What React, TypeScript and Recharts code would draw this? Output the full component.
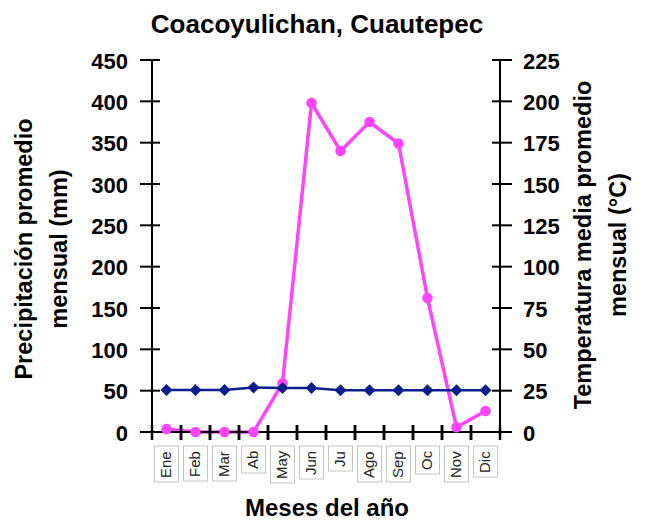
import { Line, LineChart, XAxis, YAxis } from "recharts";

const months = ["Ene", "Feb", "Mar", "Ab", "May", "Jun", "Ju", "Ago", "Sep", "Oc", "Nov", "Dic"];
const precipitation = [3.6, 0, 0, 0, 59, 398, 340, 375, 349, 162, 5.7, 25.4];
const temperature = [25.4, 25.4, 25.4, 26.9, 26.6, 26.6, 25.2, 25.3, 25.3, 25.3, 25.3, 25.3];
const precipTicks = [0, 50, 100, 150, 200, 250, 300, 350, 400, 450];
const tempTicks = [0, 25, 50, 75, 100, 125, 150, 175, 200, 225];

const data = months.map((month, i) => ({
  month,
  precip: precipitation[i],
  temp: temperature[i],
}));

const FONT = "'Liberation Sans', Arial, sans-serif";
const PINK = "#ff44ff";
const NAVY = "#0a1e8c";
const MONTH_GAP = 14;
const HALF_BAND = 14.5;

let ctx: CanvasRenderingContext2D | null = null;
function textWidth(s: string, font: string) {
  if (!ctx) ctx = document.createElement("canvas").getContext("2d");
  if (!ctx) return s.length * 8;
  ctx.font = font;
  return ctx.measureText(s).width;
}

function LeftTick({ x, y, payload }: any) {
  return (
    <g>
      <rect x={x - 10} y={y - 1} width={20} height={2} fill="#000" />
      <text x={x - 22} y={y + 1} textAnchor="end" dominantBaseline="central" fontFamily={FONT} fontWeight="bold" fontSize={22} fill="#000">
        {payload.value}
      </text>
    </g>
  );
}

function RightTick({ x, y, payload }: any) {
  return (
    <g>
      <rect x={x - 10} y={y - 1} width={20} height={2} fill="#000" />
      <text x={x + 21} y={y + 1} textAnchor="start" dominantBaseline="central" fontFamily={FONT} fontWeight="bold" fontSize={22} fill="#000">
        {payload.value}
      </text>
    </g>
  );
}

function MonthTick(props: any) {
  const cx = Number(props.x);
  const top = Number(props.y);
  const label = String(props.payload.value);
  const axisY = top - MONTH_GAP;
  const w = textWidth(label, `15px ${FONT}`);
  const h = Math.round(w + 9);
  return (
    <g>
      <rect x={cx - HALF_BAND - 1.25} y={axisY - 7} width={2.5} height={15} fill="#000" />
      <rect x={cx + HALF_BAND - 1.25} y={axisY - 7} width={2.5} height={15} fill="#000" />
      <rect x={cx - 12} y={top} width={24} height={h} fill="#fff" stroke="#c4c4c4" strokeWidth={1} />
      <text
        x={cx + 4}
        y={top + h - 4}
        transform={`rotate(-90, ${cx + 4}, ${top + h - 4})`}
        fontFamily={FONT}
        fontSize={15}
        fill="#222"
      >
        {label}
      </text>
    </g>
  );
}

function Diamond({ cx, cy, index }: any) {
  if (cx == null || cy == null) return <g key={`d${index}`} />;
  return (
    <path
      key={`d${index}`}
      d={`M${cx},${cy - 6} L${cx + 6},${cy} L${cx},${cy + 6} L${cx - 6},${cy} Z`}
      fill={NAVY}
    />
  );
}

export default function App() {
  return (
    <div style={{ position: "absolute", left: 0, top: 0, width: 654, height: 523, background: "#fff" }}>
      <LineChart width={654} height={523} data={data} margin={{ top: 60, right: 0, bottom: 0, left: 0 }}>
        <XAxis
          dataKey="month"
          padding={{ left: HALF_BAND, right: HALF_BAND }}
          height={91}
          interval={0}
          tickSize={0}
          tickMargin={MONTH_GAP}
          tickLine={false}
          axisLine={{ stroke: "#000", strokeWidth: 2 }}
          tick={<MonthTick />}
        />
        <YAxis
          yAxisId="left"
          domain={[0, 450]}
          ticks={precipTicks}
          interval={0}
          width={152}
          tickSize={0}
          tickLine={false}
          tick={<LeftTick />}
          axisLine={{ stroke: "#000", strokeWidth: 2 }}
        />
        <YAxis
          yAxisId="right"
          orientation="right"
          domain={[0, 225]}
          ticks={tempTicks}
          interval={0}
          width={154}
          tickSize={0}
          tickLine={false}
          tick={<RightTick />}
          axisLine={{ stroke: "#000", strokeWidth: 2 }}
        />
        <Line
          yAxisId="left"
          dataKey="precip"
          stroke={PINK}
          strokeWidth={3.5}
          dot={{ r: 4.5, fill: PINK, stroke: PINK, strokeWidth: 1.5 }}
          isAnimationActive={false}
        />
        <Line
          yAxisId="right"
          dataKey="temp"
          stroke={NAVY}
          strokeWidth={2.5}
          dot={(p: any) => <Diamond key={`d${p.index}`} {...p} />}
          isAnimationActive={false}
        />
      </LineChart>
      <svg width={654} height={523} style={{ position: "absolute", left: 0, top: 0, pointerEvents: "none" }}>
        <text x={317} y={33} textAnchor="middle" fontFamily={FONT} fontWeight="bold" fontSize={26} fill="#000">
          Coacoyulichan, Cuautepec
        </text>
        <text x={327} y={516} textAnchor="middle" fontFamily={FONT} fontWeight="bold" fontSize={24} fill="#000">
          Meses del año
        </text>
        <g fontFamily={FONT} fontWeight="bold" fontSize={23.5} fill="#000" textAnchor="middle">
          <text x={32} y={249} transform="rotate(-90, 32, 249)">Precipitación promedio</text>
          <text x={67} y={249} transform="rotate(-90, 67, 249)">mensual (mm)</text>
          <text x={591} y={245} transform="rotate(-90, 591, 245)">Temperatura media promedio</text>
          <text x={626} y={245} transform="rotate(-90, 626, 245)">mensual (°C)</text>
        </g>
      </svg>
    </div>
  );
}
